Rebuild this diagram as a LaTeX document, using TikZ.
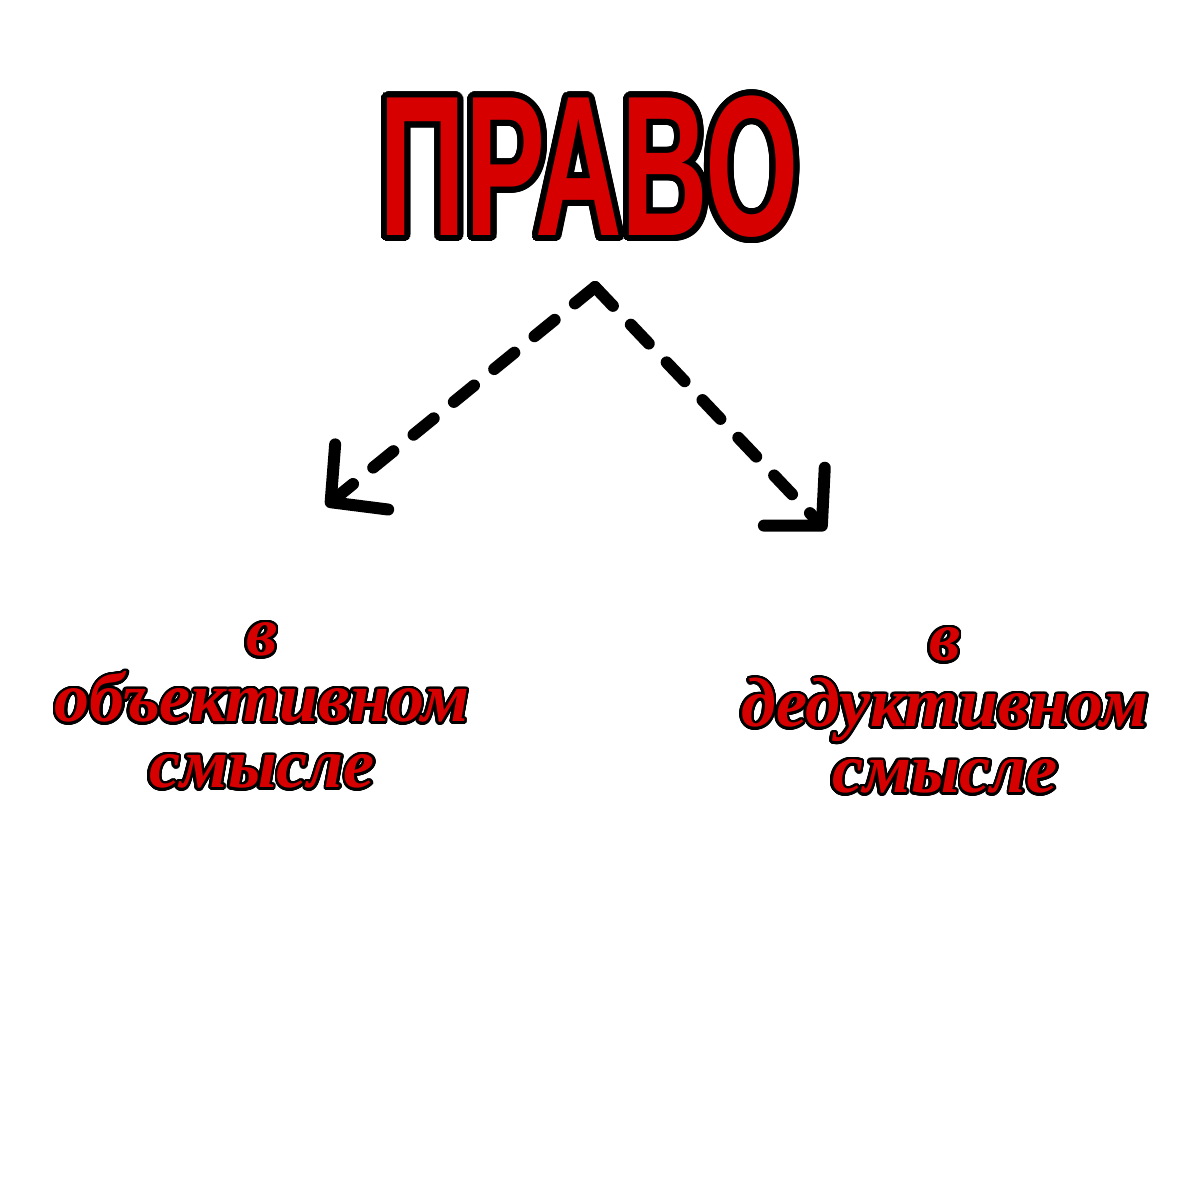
\documentclass[tikz,border=0pt]{standalone}
\usepackage{fontspec}
\usepackage[copies]{contour}
\setmainfont{Liberation Serif}
\newfontfamily\titlefont{Liberation Sans}[FakeStretch=0.6]
\usetikzlibrary{
	arrows.meta,
	positioning,
}
\definecolor{lawred}{RGB}{215,0,0}
\contournumber{32}
\newcommand{\outlined}[2]{{\contourlength{#1}\contour{black}{#2}}}
\tikzset{heading/.style={
		% The font:
		font=\titlefont\bfseries\fontsize{200}{200}\selectfont,
		% The colour:
		text=lawred,
		inner sep=0pt,
}}
\tikzset{meaning/.style={
		% The font:
		font=\bfseries\itshape\fontsize{70}{66}\selectfont,
		% The colour:
		text=lawred,
		align=center,
		inner sep=0pt,
}}
\tikzset{dashedarrow/.style={
		% The line:
		line width=12pt,
		line cap=round,
		dash pattern=on 26pt off 26pt,
		% The tip:
		-{Straight Barb[length=40pt,width=84pt,line width=12pt,round]},
}}

\begin{document}
\begin{tikzpicture}[x=1pt,y=-1pt,black]
	
	\fill[white] (0,0) rectangle (1200,1200);
	
	%% title
	\node (pravo)[heading] at (589,170) {\outlined{6pt}{ПРАВО}};
	
	%% the two meanings
	\node (objective)[meaning] at (262,707) {\outlined{2.5pt}{в}\\\outlined{2.5pt}{объективном}\\\outlined{2.5pt}{смысле}};
	\node (deductive)[meaning] at (945,712) {\outlined{2.5pt}{в}\\\outlined{2.5pt}{дедуктивном}\\\outlined{2.5pt}{смысле}};
	
	%% arrows
	\coordinate (apex) at (595,287);
	\coordinate (lefttip) at (326,506);
	\coordinate (righttip) at (826,530);
	\draw[dashedarrow] (apex) to (lefttip);
	\draw[dashedarrow] (apex) to (righttip);
	
\end{tikzpicture}
\end{document}
